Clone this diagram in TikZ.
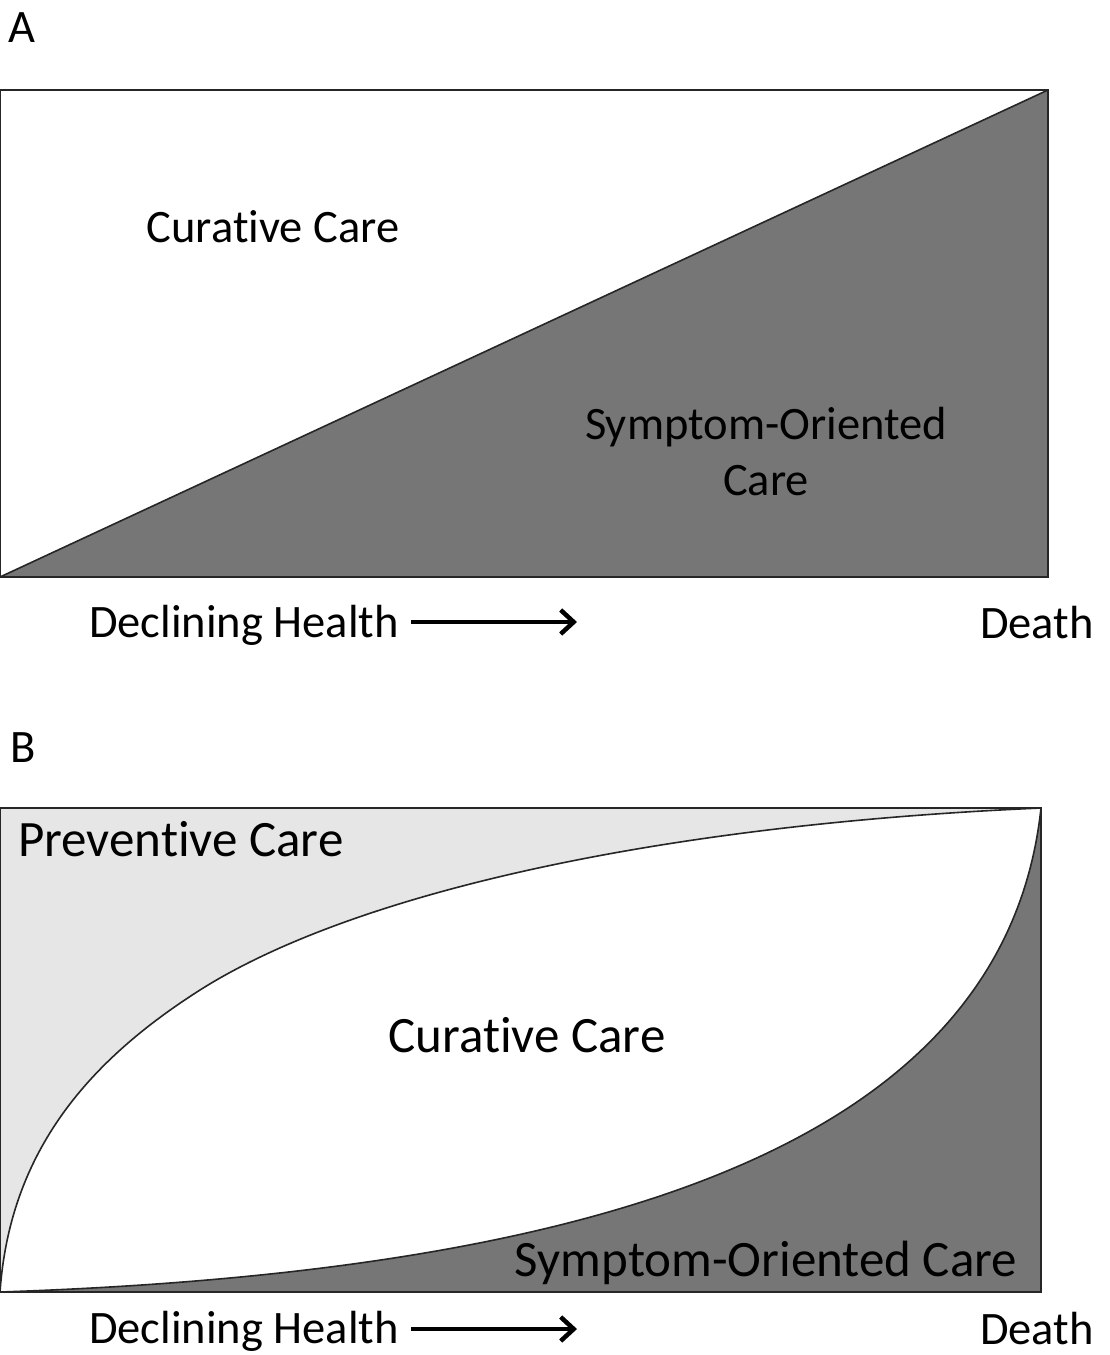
\documentclass[tikz,border=0pt]{standalone}
\usepackage{fontspec}
\setmainfont{Carlito}[Ligatures=NoCommon]
\usetikzlibrary{arrows.meta,positioning,calc}
\definecolor{symfill}{HTML}{767676}
\definecolor{prevfill}{HTML}{E6E6E6}
\definecolor{edgegrey}{HTML}{262626}

\begin{document}
\begin{tikzpicture}[
  x=1pt, y=-1pt,
  panel/.style={draw=edgegrey, line width=2pt},
  curve/.style={draw=edgegrey, line width=1.6pt},
  lbl/.style={inner sep=0pt, anchor=base, font=\fontsize{46.5}{56}\selectfont},
  biglbl/.style={inner sep=0pt, anchor=base, font=\fontsize{51}{60}\selectfont},
  axisarrow/.style={-{Straight Barb[length=13pt,width=24pt,line width=4.5pt]}, line width=4.5pt},
]
\useasboundingbox (0,0) rectangle (1109,1355);

% --- Panel A: straight trade-off ---
\fill[white] (0,90) rectangle (1048,577);
\fill[symfill] (0,577) -- (1048,90) -- (1048,577) -- cycle;
\draw[curve] (0,577) -- (1048,90);
\draw[panel] (0,90) rectangle (1048,577);

\node[lbl, anchor=base west] (panA) at (8,42) {A};
\node[lbl] (curA) at (273,242) {Curative Care};
\node[lbl, align=center] (symA) at (766,495) {Symptom-Oriented\\Care};

\node[lbl] (declA) at (244,637) {Declining Health};
\node[lbl] (deathA) at (1037,638) {Death};
\coordinate (arrA) at (577,622);
\draw[axisarrow] ([xshift=12pt]declA.east |- arrA) -- (arrA);

% --- Panel B: curved trade-off ---
\fill[prevfill] (0,808) rectangle (1041,1292);
\fill[white] (0,1292) .. controls (10,1150) and (90,1060) .. (200,990)
  .. controls (350,895) and (650,825) .. (1041,808) -- (1041,1292) -- cycle;
\fill[symfill] (0,1292) .. controls (600,1272) and (1005,1145) .. (1041,808)
  -- (1041,1292) -- cycle;
\draw[curve] (0,1292) .. controls (10,1150) and (90,1060) .. (200,990)
  .. controls (350,895) and (650,825) .. (1041,808);
\draw[curve] (0,1292) .. controls (600,1272) and (1005,1145) .. (1041,808);
\draw[panel] (0,808) rectangle (1041,1292);

\node[lbl, anchor=base west] (panB) at (10,762) {B};
\node[biglbl, anchor=base west] (prevB) at (18,856) {Preventive Care};
\node[biglbl] (curB) at (527,1052) {Curative Care};
\node[biglbl] (symB) at (766,1276) {Symptom-Oriented Care};

\node[lbl] (declB) at (244,1343) {Declining Health};
\node[lbl] (deathB) at (1037,1344) {Death};
\coordinate (arrB) at (577,1329);
\draw[axisarrow] ([xshift=12pt]declB.east |- arrB) -- (arrB);

\end{tikzpicture}
\end{document}
